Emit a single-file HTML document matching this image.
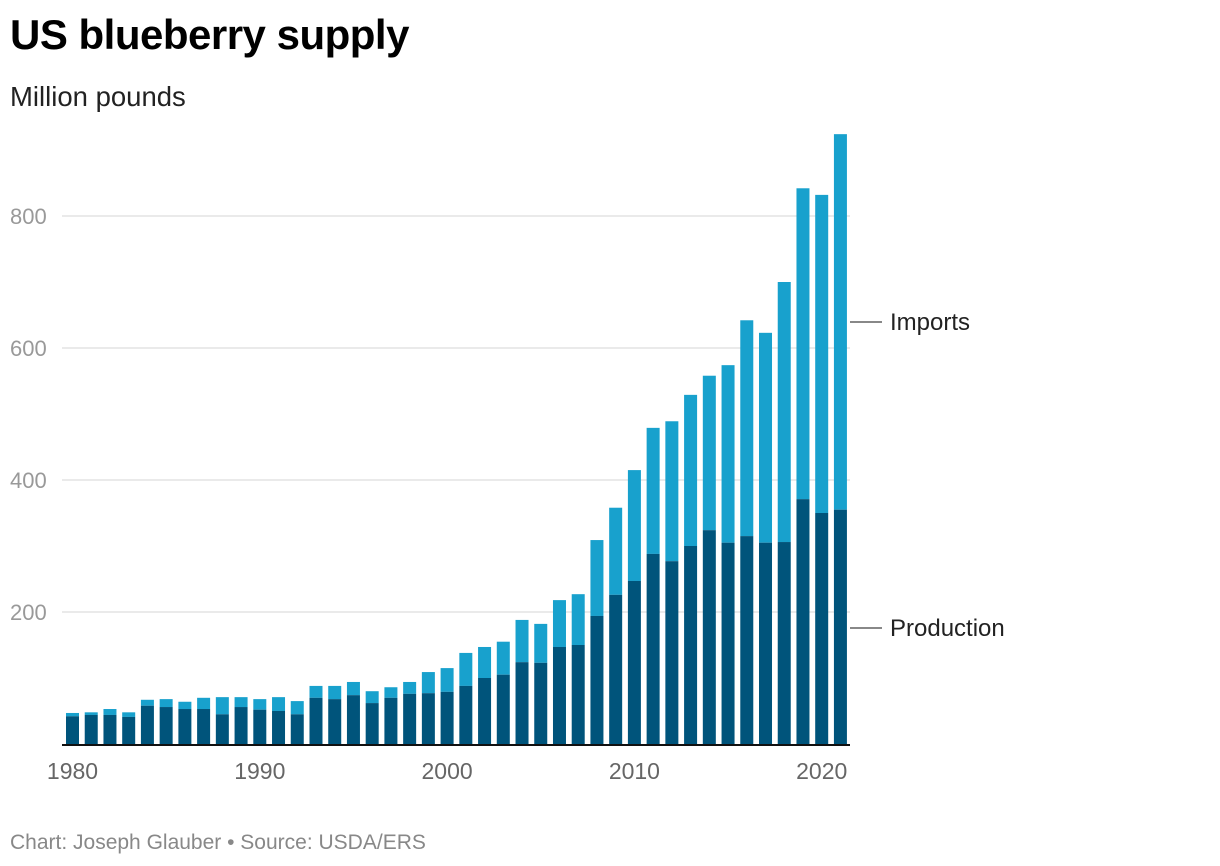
<!DOCTYPE html>
<html><head><meta charset="utf-8"><style>
body{margin:0;background:#fff;font-family:"Liberation Sans",sans-serif;}
#wrap{position:relative;width:1220px;height:866px;overflow:hidden;}
</style></head><body>
<div id="wrap">
<div style="position:absolute;left:10px;top:11px;font-size:42px;font-weight:bold;color:#000;letter-spacing:-0.5px">US blueberry supply</div>
<div style="position:absolute;left:10px;top:81px;font-size:27.5px;color:#222">Million pounds</div>
<svg id="chart" width="1220" height="866" style="position:absolute;left:0;top:0"></svg>
<div style="position:absolute;left:10px;top:831px;font-size:21px;color:#888">Chart: Joseph Glauber • Source: USDA/ERS</div>
</div>
<script>
const years=[1980,1981,1982,1983,1984,1985,1986,1987,1988,1989,1990,1991,1992,1993,1994,1995,1996,1997,1998,1999,2000,2001,2002,2003,2004,2005,2006,2007,2008,2009,2010,2011,2012,2013,2014,2015,2016,2017,2018,2019,2020,2021];
const production=[42,44,44,41,58,56,53,53,45,56,52,50,45,70,68,74,62,70,76,77,79,88,100,105,124,123,147,150,194,226,247,288,277,300,324,305,315,305,306,371,350,355];
const total=[47,48,53,48,67,68,64,70,71,71,68,71,65,88,88,94,80,86,94,109,115,138,147,155,188,182,218,227,309,358,415,479,489,529,558,574,642,623,700,842,832,924];
const yTicks=[200,400,600,800];
const xTicks=[1980,1990,2000,2010,2020];
const NS="http://www.w3.org/2000/svg";
const svg=document.getElementById('chart');
const y0=744,k=0.66;
function y(v){return y0-v*k;}
function x(yr){return 72.5+(yr-1980)*18.73;}
function mk(t,a){const e=document.createElementNS(NS,t);for(const n in a)e.setAttribute(n,a[n]);svg.appendChild(e);return e;}
yTicks.forEach(v=>{
 const g=mk('line',{x1:62,x2:850,y1:y(v),y2:y(v),stroke:'#e3e3e3','stroke-width':1.5});
 
 
 const t=mk('text',{x:10,y:y(v)+8,'font-size':22,fill:'#999','font-family':'Liberation Sans'});
 t.textContent=v;
 
 
});
years.forEach((yr,i)=>{
 const bw=13,cx=x(yr);
 const r1=mk('rect',{x:cx-bw/2,y:y(total[i]),width:bw,height:(total[i]-production[i])*k,fill:'#18a1cd'});
 
 
 const r2=mk('rect',{x:cx-bw/2,y:y(production[i]),width:bw,height:production[i]*k,fill:'#00547b'});
 
 
});
const ax=mk('line',{x1:62,x2:850,y1:y0+1,y2:y0+1,stroke:'#111','stroke-width':2});


xTicks.forEach(yr=>{
 const t=mk('text',{x:x(yr),y:779,'font-size':23,fill:'#666','text-anchor':'middle','font-family':'Liberation Sans'});
 t.textContent=yr;
 
 
});
[['Imports',322],['Production',628]].forEach(([lab,yy])=>{
 const l=mk('line',{x1:850,x2:882,y1:yy,y2:yy,stroke:'#888','stroke-width':2});
 
 
 const t=mk('text',{x:890,y:yy+8,'font-size':24,fill:'#222','font-family':'Liberation Sans'});
 t.textContent=lab;
 
 
});
</script>
</body></html>
